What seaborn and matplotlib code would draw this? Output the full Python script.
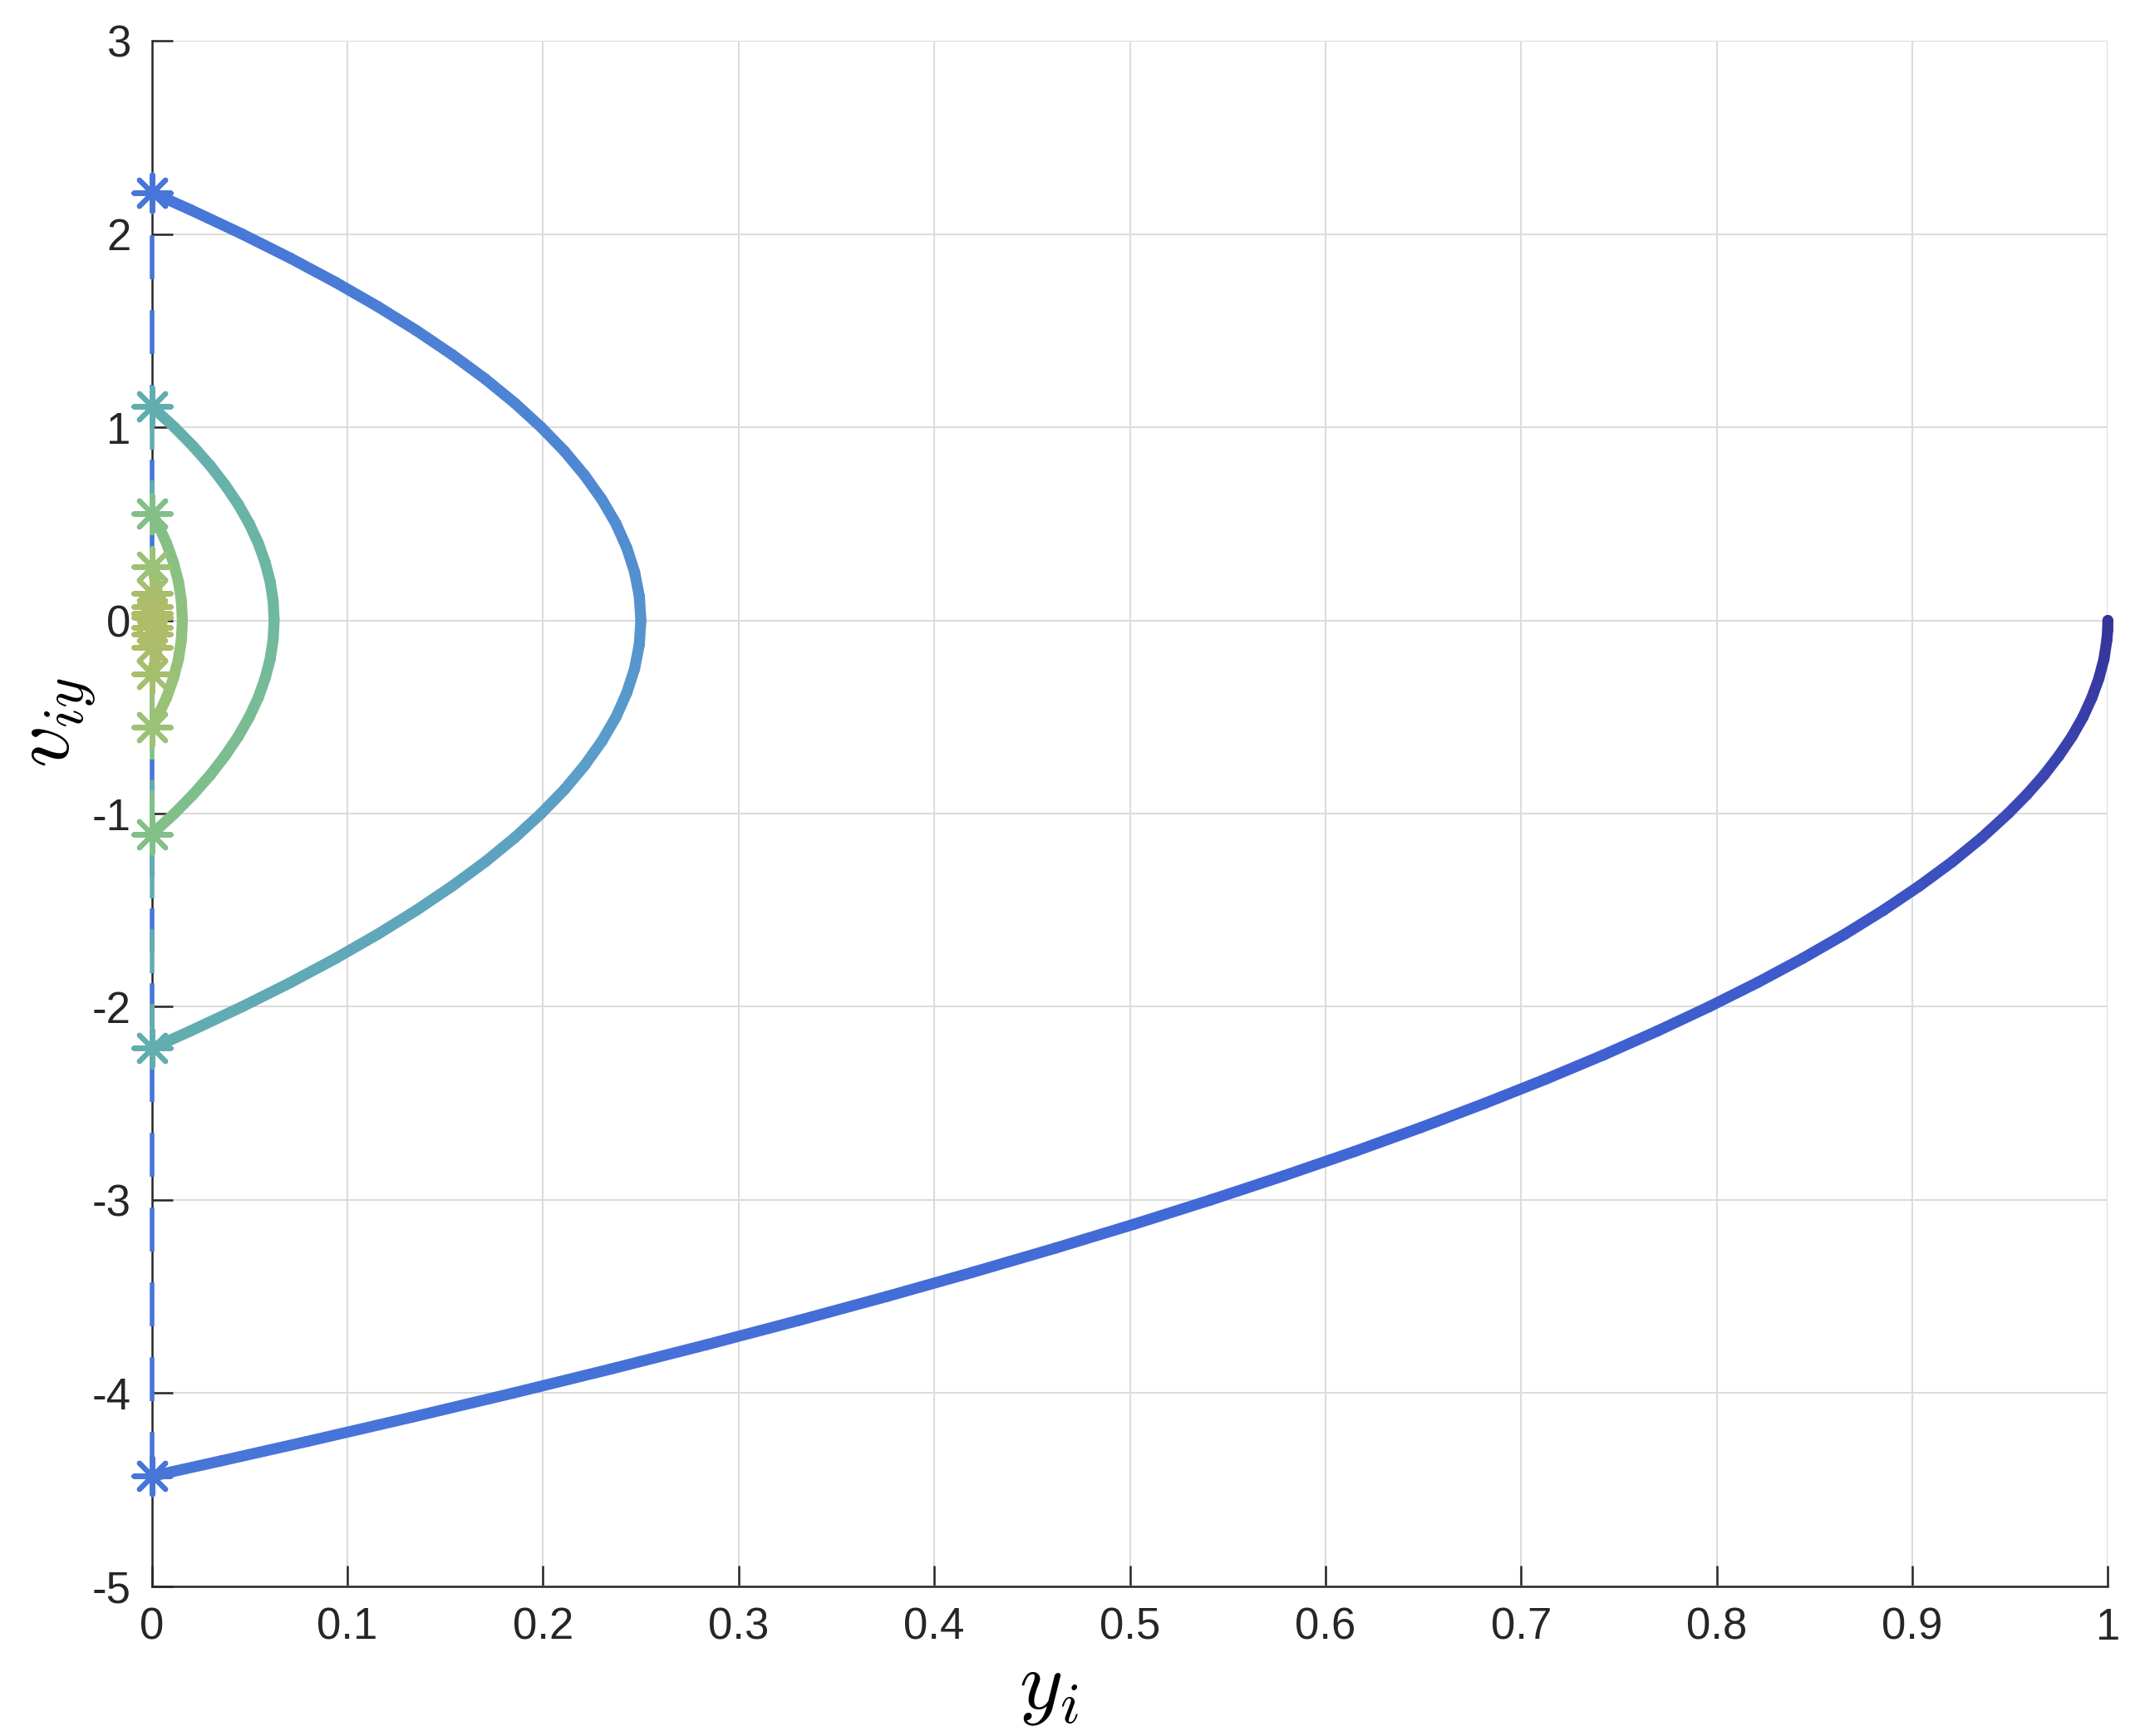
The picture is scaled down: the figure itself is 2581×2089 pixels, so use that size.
import numpy as np
import matplotlib
matplotlib.use("Agg")
import matplotlib.pyplot as plt
from matplotlib.collections import LineCollection
from matplotlib.colors import LinearSegmentedColormap
import seaborn as sns

# ---------------- data ----------------
# Each arc: height y_i (x axis) and velocity v_iy (y axis)
arc0_y = [1.0000, 0.9999, 0.9995, 0.9980, 0.9954, 0.9918, 0.9873, 0.9817, 0.9750, 0.9674,
          0.9587, 0.9490, 0.9355, 0.9204, 0.9036, 0.8853, 0.8654, 0.8439, 0.8208, 0.7961,
          0.7698, 0.7420, 0.7125, 0.6814, 0.6488, 0.6146, 0.5787, 0.5413, 0.5023, 0.4617,
          0.4194, 0.3756, 0.3302, 0.2833, 0.2347, 0.1845, 0.1327, 0.0794, 0.0356, 0.0000]
arc0_v = [0.00, -0.05, -0.10, -0.20, -0.30, -0.40, -0.50, -0.60, -0.70, -0.80,
          -0.90, -1.00, -1.125, -1.25, -1.375, -1.50, -1.625, -1.75, -1.875, -2.00,
          -2.125, -2.25, -2.375, -2.50, -2.625, -2.75, -2.875, -3.00, -3.125, -3.25,
          -3.375, -3.50, -3.625, -3.75, -3.875, -4.00, -4.125, -4.25, -4.35, -4.43]

arc1_y = [0.0000, 0.0198, 0.0461, 0.0708, 0.0939, 0.1154, 0.1353, 0.1536, 0.1704, 0.1855,
          0.1990, 0.2110, 0.2213, 0.2301, 0.2373, 0.2428, 0.2468, 0.2492, 0.2500,
          0.2492, 0.2468, 0.2428, 0.2373, 0.2301, 0.2213, 0.2110, 0.1990, 0.1855, 0.1704,
          0.1536, 0.1353, 0.1154, 0.0939, 0.0708, 0.0461, 0.0198, 0.0000]
arc1_v = [2.215, 2.125, 2.000, 1.875, 1.750, 1.625, 1.500, 1.375, 1.250, 1.125,
          1.000, 0.875, 0.750, 0.625, 0.500, 0.375, 0.250, 0.125, 0.000,
          -0.125, -0.250, -0.375, -0.500, -0.625, -0.750, -0.875, -1.000, -1.125, -1.250,
          -1.375, -1.500, -1.625, -1.750, -1.875, -2.000, -2.125, -2.215]

arc2_y = [0.000, 0.0115, 0.0212, 0.0299, 0.0375, 0.0442, 0.0498, 0.0544, 0.0579, 0.0605, 0.0620, 0.0625,
          0.0620, 0.0605, 0.0579, 0.0544, 0.0498, 0.0442, 0.0375, 0.0299, 0.0212, 0.0115, 0.000]
arc2_v = [1.107, 1.00, 0.90, 0.80, 0.70, 0.60, 0.50, 0.40, 0.30, 0.20, 0.10, 0.00,
          -0.10, -0.20, -0.30, -0.40, -0.50, -0.60, -0.70, -0.80, -0.90, -1.00, -1.107]

arc3_y = [0.000, 0.0029, 0.0075, 0.0110, 0.0136, 0.0151, 0.0156,
          0.0151, 0.0136, 0.0110, 0.0075, 0.0029, 0.000]
arc3_v = [0.554, 0.50, 0.40, 0.30, 0.20, 0.10, 0.00,
          -0.10, -0.20, -0.30, -0.40, -0.50, -0.554]

arc4_y = [0.000, 0.0019, 0.0034, 0.0039, 0.0034, 0.0019, 0.000]
arc4_v = [0.277, 0.20, 0.10, 0.00, -0.10, -0.20, -0.277]

arc5_y = [0.000, 0.0007, 0.0010, 0.0007, 0.000]
arc5_v = [0.138, 0.069, 0.000, -0.069, -0.138]

arc6_y = [0.000, 0.00024, 0.000]
arc6_v = [0.069, 0.000, -0.069]

arc7_y = [0.000, 0.00006, 0.000]
arc7_v = [0.035, 0.000, -0.035]

arc8_y = [0.000, 0.00002, 0.000]
arc8_v = [0.017, 0.000, -0.017]

x_ticks = [0, 0.1, 0.2, 0.3, 0.4, 0.5, 0.6, 0.7, 0.8, 0.9, 1.0]
x_tick_labels = ["0", "0.1", "0.2", "0.3", "0.4", "0.5", "0.6", "0.7", "0.8", "0.9", "1"]
y_ticks = [-5, -4, -3, -2, -1, 0, 1, 2, 3]
y_tick_labels = ["-5", "-4", "-3", "-2", "-1", "0", "1", "2", "3"]

# colour along time
time_stops = [0.00, 0.05, 0.12, 0.20, 0.334, 0.45, 0.55, 0.668, 0.75, 0.835, 0.92, 1.00]
time_colors = ["#34359a", "#3a42ae", "#3d58c8", "#4066d6", "#4776d8", "#5089d2", "#5a9ccb",
               "#62adb0", "#6fb8a0", "#82c088", "#9bc277", "#afbc68"]

arcs = [(arc0_y, arc0_v), (arc1_y, arc1_v), (arc2_y, arc2_v), (arc3_y, arc3_v),
        (arc4_y, arc4_v), (arc5_y, arc5_v), (arc6_y, arc6_v), (arc7_y, arc7_v),
        (arc8_y, arc8_v)]

# ---------------- style ----------------
sns.set_theme(style="white")
plt.rcParams["font.family"] = ["Liberation Sans", "DejaVu Sans"]
plt.rcParams["mathtext.fontset"] = "cm"
plt.rcParams["axes.unicode_minus"] = False

cmap = LinearSegmentedColormap.from_list("traj", list(zip(time_stops, time_colors)))

fig = plt.figure(figsize=(2581 / 200, 2089 / 200), dpi=200)
ax = fig.add_axes([0.0708, 0.0862, 0.9119, 0.8903])

# time is proportional to the change of velocity (constant gravity)
total = sum(abs(v[0] - v[-1]) for _, v in arcs)
t0 = 0.0
impact_t = []
for k, (ys, vs) in enumerate(arcs):
    ys = np.asarray(ys, float)
    vs = np.asarray(vs, float)
    tau = (t0 + np.abs(vs - vs[0])) / total
    pts = np.column_stack([ys, vs]).reshape(-1, 1, 2)
    segs = np.concatenate([pts[:-1], pts[1:]], axis=1)
    lc = LineCollection(segs, cmap=cmap, norm=plt.Normalize(0, 1),
                        linewidths=4.8, capstyle="round", joinstyle="round",
                        clip_on=False, zorder=3 + k * 0.01)
    lc.set_array(0.5 * (tau[:-1] + tau[1:]))
    ax.add_collection(lc)
    t0 += abs(vs[0] - vs[-1])
    impact_t.append(t0 / total)

# dashed jumps at impacts
for k in range(len(arcs) - 1):
    c = cmap(impact_t[k])
    sns.lineplot(x=[0.0, 0.0], y=[arcs[k][1][-1], arcs[k + 1][1][0]],
                 estimator=None, sort=False, color=c, linewidth=2.0,
                 ax=ax, zorder=4 + k * 0.01)
    ax.lines[-1].set_linestyle((0, (9.5, 6.7)))
    ax.lines[-1].set_clip_on(False)

# asterisk markers at impacts
for k in range(len(arcs) - 1):
    c = cmap(impact_t[k])
    ax.scatter([0.0, 0.0], [arcs[k][1][-1], arcs[k + 1][1][0]], marker=(8, 2, 0),
               s=16 ** 2, color=c, linewidths=2.2, clip_on=False, zorder=5 + k * 0.01)

# ---------------- axes ----------------
ax.set_xlim(0, 1)
ax.set_ylim(-5, 3)
ax.set_xticks(x_ticks)
ax.set_xticklabels(x_tick_labels)
ax.set_yticks(y_ticks)
ax.set_yticklabels(y_tick_labels)
ax.grid(True, color="#dcdcdc", linewidth=0.75)
ax.set_axisbelow(True)
for s in ["top", "right"]:
    ax.spines[s].set_visible(False)
for s in ["left", "bottom"]:
    ax.spines[s].set_color("#262626")
    ax.spines[s].set_linewidth(0.9)
ax.tick_params(axis="both", direction="in", length=9, width=0.9, color="#262626",
               labelsize=19, labelcolor="#262626", pad=9,
               left=True, bottom=True, top=False, right=False)

ax.text(0.4586, -0.066, r"$y_i$", transform=ax.transAxes, ha="center", va="center",
        fontsize=36, color="black")
ax.text(-0.0478, 0.559, r"$v_{iy}$", transform=ax.transAxes, ha="center", va="center",
        fontsize=36, color="black", rotation=90)

fig.savefig("out.png", dpi=200, facecolor="white")
